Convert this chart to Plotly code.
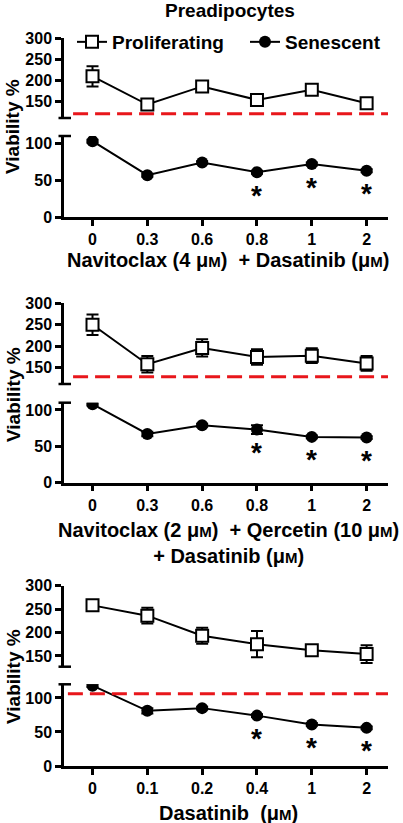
import plotly.graph_objects as go

# ---------------- data ----------------
doses_nd = ["0", "0.3", "0.6", "0.8", "1", "2"]      # panels 1 & 2 (Dasatinib, µM)
doses_d = ["0", "0.1", "0.2", "0.4", "1", "2"]       # panel 3

p1_prolif = [209, 142, 185, 153, 177, 145]
p1_prolif_err = [24, 8, 12, 10, 12, 10]
p1_sen = [103, 57, 74, 61, 72, 63]
p1_sen_err = [2, 2, 2, 2, 2, 2]
p1_sig = [False, False, False, True, True, True]

p2_prolif = [250, 158, 196, 175, 178, 160]
p2_prolif_err = [24, 19, 20, 18, 17, 17]
p2_sen = [108, 67, 79, 73, 63, 62]
p2_sen_err = [2, 3, 2, 6, 2, 2]
p2_sig = [False, False, False, True, True, True]

p3_prolif = [258, 236, 193, 175, 162, 154]
p3_prolif_err = [4, 17, 17, 28, 5, 19]
p3_sen = [118, 81, 85, 74, 61, 56]
p3_sen_err = [2, 4, 2, 2, 2, 2]
p3_sig = [False, False, False, True, True, True]

ref_lines = [120, 129, 106]          # red dashed reference values
ref_on_upper = [True, True, False]   # which segment the reference line lives on

MU = "μ<span style='font-size:15px'>M</span>"
x_titles = [
    f"Navitoclax (4 {MU})  + Dasatinib ({MU})",
    f"Navitoclax (2 {MU})  + Qercetin (10 {MU})<br>+ Dasatinib ({MU})",
    f"Dasatinib  ({MU})",
]
title_text = "Preadipocytes"
y_title = "Viability %"

# ---------------- layout geometry ----------------
W, H = 403, 823
def fy(px):
    return 1 - px / H

FONT = "Liberation Sans, Arial, sans-serif"
x_dom = [64 / W, 388 / W]
x_range = [-0.52, 5.39]

panels = [
    dict(cats=doses_nd, prolif=p1_prolif, perr=p1_prolif_err, sen=p1_sen, serr=p1_sen_err, sig=p1_sig,
         up_px=(118, 38), up_rng=[110, 300], lo_px=(217.3, 136), lo_rng=[0, 110], lo_ticks=[0, 50, 100],
         xt_y=260, yt_y=127),
    dict(cats=doses_nd, prolif=p2_prolif, perr=p2_prolif_err, sen=p2_sen, serr=p2_sen_err, sig=p2_sig,
         up_px=(384, 303.3), up_rng=[112, 300], lo_px=(482.7, 402.7), lo_rng=[0, 110], lo_ticks=[0, 50, 100],
         xt_y=542.5, yt_y=395),
    dict(cats=doses_d, prolif=p3_prolif, perr=p3_prolif_err, sen=p3_sen, serr=p3_sen_err, sig=p3_sig,
         up_px=(666.7, 585.7), up_rng=[127, 300], lo_px=(766, 684.3), lo_rng=[0, 120], lo_ticks=[0, 50, 100],
         xt_y=813, yt_y=677),
]

fig = go.Figure()
layout = {}
annotations = []
shapes = []

axis_common = dict(showline=True, linecolor="black", linewidth=2.5, ticks="outside", ticklen=6,
                   tickwidth=2.5, tickcolor="black", showgrid=False, zeroline=False, automargin=False,
                   tickfont=dict(family=FONT, size=16, color="black", weight="bold"))

for i, p in enumerate(panels):
    xn = i + 1
    lo_n = 2 * i + 1
    up_n = 2 * i + 2
    xname = "x" if xn == 1 else f"x{xn}"
    lo_name = "y" if lo_n == 1 else f"y{lo_n}"
    up_name = f"y{up_n}"

    layout["xaxis" if xn == 1 else f"xaxis{xn}"] = dict(
        axis_common, type="category", domain=x_dom, range=x_range, anchor=lo_name,
        tickvals=p["cats"], ticktext=p["cats"],
    )
    layout["yaxis" if lo_n == 1 else f"yaxis{lo_n}"] = dict(
        axis_common, domain=[fy(p["lo_px"][0]), fy(p["lo_px"][1])], range=p["lo_rng"],
        tickvals=p["lo_ticks"], anchor=xname,
    )
    layout[f"yaxis{up_n}"] = dict(
        axis_common, domain=[fy(p["up_px"][0]), fy(p["up_px"][1])], range=p["up_rng"],
        tickvals=[150, 200, 250, 300], anchor=xname,
    )

    show = i == 0
    fig.add_trace(go.Scatter(
        x=p["cats"], y=p["prolif"], xaxis=xname, yaxis=up_name, name="Proliferating",
        mode="lines+markers", showlegend=show, legendrank=1,
        line=dict(color="black", width=2),
        marker=dict(symbol="square", size=12, color="white", line=dict(color="black", width=2)),
        error_y=dict(type="data", array=p["perr"], color="black", thickness=2, width=6),
    ))
    fig.add_trace(go.Scatter(
        x=p["cats"], y=p["sen"], xaxis=xname, yaxis=lo_name, name="Senescent",
        mode="lines+markers", showlegend=show, legendrank=2,
        line=dict(color="black", width=2),
        marker=dict(symbol="circle", size=12, color="black"),
        error_y=dict(type="data", array=p["serr"], color="black", thickness=2, width=6),
    ))

    # significance stars (x given as category index)
    for k, (v, s) in enumerate(zip(p["sen"], p["sig"])):
        if s:
            annotations.append(dict(x=k, y=v, xref=xname, yref=lo_name, text="*", showarrow=False,
                                    yshift=-23, font=dict(family=FONT, size=28, color="black", weight="bold")))

    # red dashed reference line
    ref_axis = up_name if ref_on_upper[i] else lo_name
    x0 = 0.028 if ref_on_upper[i] else 0.012
    shapes.append(dict(type="line", xref=f"{xname} domain", yref=ref_axis, x0=x0, x1=1,
                       y0=ref_lines[i], y1=ref_lines[i],
                       line=dict(color="#e8161b", width=3, dash="15px,7px")))

    # axis break marks
    for ypx in (p["up_px"][0], p["lo_px"][1]):
        shapes.append(dict(type="line", xref="paper", yref="paper", x0=58.5 / W, x1=71 / W,
                           y0=fy(ypx), y1=fy(ypx), line=dict(color="black", width=2.5)))

    # axis titles
    annotations.append(dict(x=228 / W, y=fy(p["xt_y"]), xref="paper", yref="paper", text=x_titles[i],
                            showarrow=False, xanchor="center", yanchor="middle",
                            font=dict(family=FONT, size=20, color="black", weight="bold")))
    annotations.append(dict(x=13 / W, y=fy(p["yt_y"]), xref="paper", yref="paper", text=y_title,
                            showarrow=False, textangle=-90, xanchor="center", yanchor="middle",
                            font=dict(family=FONT, size=19, color="black", weight="bold")))

annotations.append(dict(x=230 / W, y=fy(10), xref="paper", yref="paper", text=title_text, showarrow=False,
                        xanchor="center", yanchor="middle",
                        font=dict(family=FONT, size=19, color="black", weight="bold")))

fig.update_layout(
    width=W, height=H, margin=dict(l=0, r=0, t=0, b=0, autoexpand=False),
    paper_bgcolor="white", plot_bgcolor="rgba(0,0,0,0)",
    showlegend=True,
    legend=dict(orientation="h", x=72 / W, y=fy(42), xanchor="left", yanchor="middle",
                bgcolor="rgba(0,0,0,0)", font=dict(family=FONT, size=19, color="black", weight="bold"),
                itemwidth=30, traceorder="normal", entrywidth=128, entrywidthmode="pixels"),
    annotations=annotations, shapes=shapes,
    **layout,
)

fig.write_html("out.html", config={"displayModeBar": False},
               post_script="document.body.style.margin='0';document.body.style.padding='0';")
